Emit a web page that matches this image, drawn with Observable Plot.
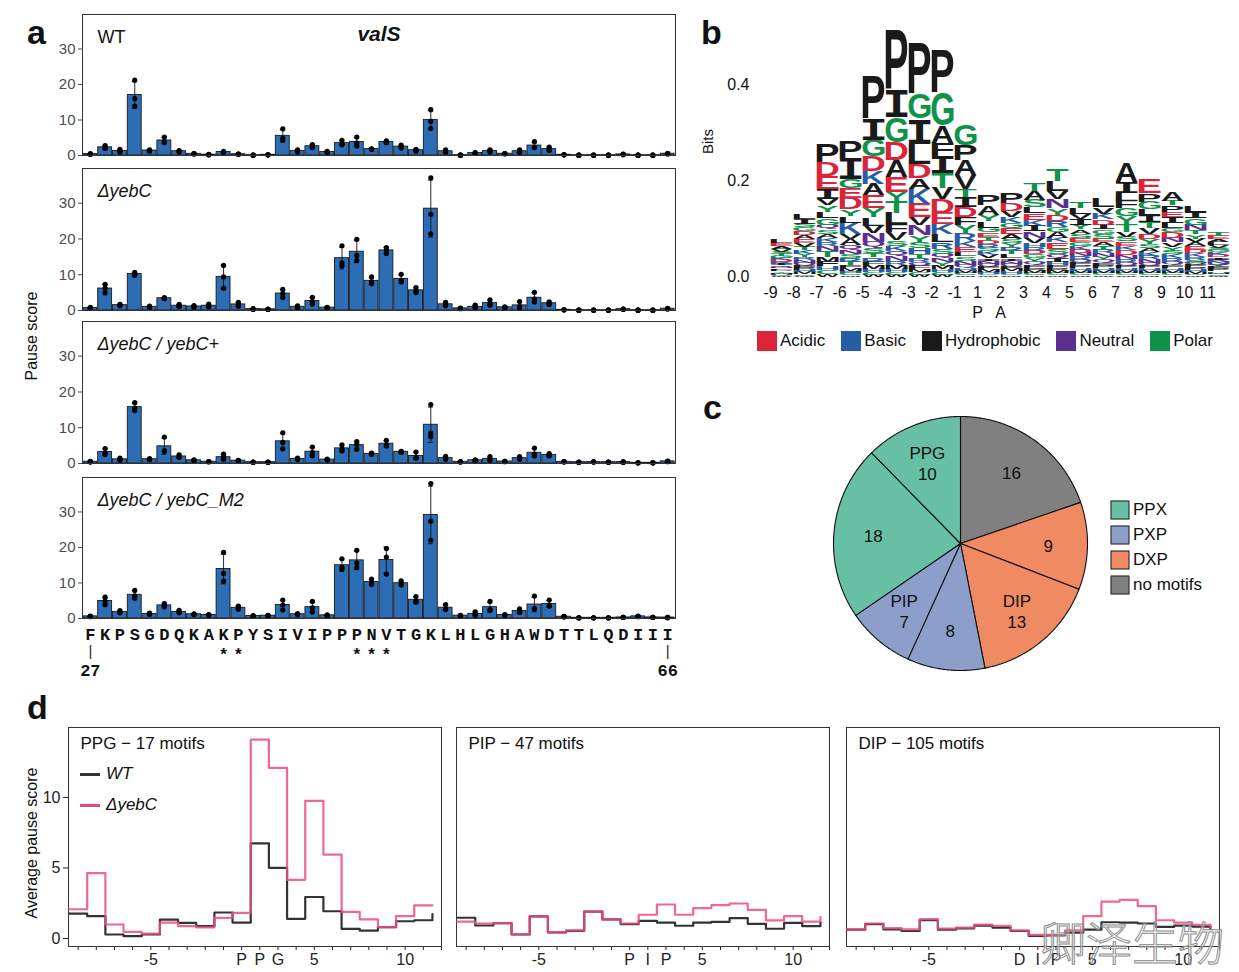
<!DOCTYPE html>
<html><head><meta charset="utf-8">
<script src="https://cdn.jsdelivr.net/npm/d3@7"></script>
<script src="https://cdn.jsdelivr.net/npm/@observablehq/plot@0.6"></script>
<style>
body{margin:0;background:#fff;}
#page{position:relative;width:1239px;height:972px;overflow:hidden;font-family:"Liberation Sans",Arial,sans-serif;color:#111;background:#fff;}
.plab{position:absolute;font-weight:bold;font-size:34px;line-height:34px;}
svg{display:block;}
#legb [class$="-swatch"]{margin-right:16px !important;}
#legb svg{margin-right:3px !important;}
#legc [class$="-swatch"]{padding-bottom:5px !important;}
#legc svg{margin-right:4px !important;}
#legc svg rect{stroke:#333;stroke-width:1.2px;}
</style></head><body><div id="page"></div>
<script>
// ---------------- DATA ----------------
// Panel a: residues 27..66 of valS, three replicate pause scores per residue
const positions = d3.range(27, 67);
const sequence = "FKPSGDQKAKPYSIVIPPPNVTGKLHLGHAWDTTLQDIII".split("");
const starPositions = [36, 37, 45, 46, 47];
const endPositions = [27, 66];
const wtReps = [
[0.4,0.5,0.3],[2.0,2.8,2.1],[1.0,1.7,1.2],[21.2,16.0,13.9],[1.3,1.6,1.3],[3.6,5.2,3.9],[1.0,1.4,1.2],[0.5,0.5,0.4],[0.2,0.3,0.2],[0.9,1.2,0.9],
[0.4,0.4,0.3],[0.1,0.1,0.1],[0.2,0.2,0.2],[7.5,4.8,4.3],[1.0,1.6,1.3],[2.2,3.1,2.5],[0.9,1.2,0.9],[4.3,3.0,3.2],[5.2,3.5,2.7],[1.7,1.9,1.8],
[4.1,3.6,3.7],[2.1,2.9,2.5],[1.2,1.7,1.6],[12.9,9.6,7.6],[1.0,1.6,1.0],[0.1,0.1,0.1],[0.8,0.6,0.7],[1.0,1.6,1.3],[0.5,0.5,0.5],[0.9,1.6,1.1],
[3.9,2.3,2.2],[1.5,2.4,1.5],[0.2,0.2,0.2],[0.1,0.1,0.1],[0.1,0.1,0.1],[0.1,0.1,0.1],[0.3,0.4,0.2],[0.1,0.1,0.1],[0.1,0.1,0.1],[0.6,0.4,0.5]];
const koReps = [
[0.9,0.7,0.6],[7.3,6.2,4.9],[1.7,1.5,1.3],[10.7,10.1,9.8],[1.2,1.0,0.9],[3.6,3.3,3.4],[1.7,1.2,1.1],[1.4,1.0,1.0],[1.8,1.2,1.0],[12.6,9.4,6.2],
[2.3,1.6,1.2],[0.5,0.4,0.3],[0.4,0.3,0.3],[5.9,4.7,3.6],[1.3,1.0,0.8],[3.7,2.5,1.8],[0.9,0.8,0.7],[18.1,13.3,12.5],[19.9,15.4,14.0],[9.4,8.0,7.5],
[17.6,16.9,15.9],[10.1,8.4,8.0],[6.4,5.5,5.0],[37.1,26.9,21.4],[2.3,1.6,1.3],[0.7,0.6,0.5],[1.5,0.9,0.7],[3.0,1.9,1.5],[1.0,0.9,0.8],[2.5,1.1,0.7],
[5.1,3.2,2.4],[2.4,2.0,1.7],[0.2,0.2,0.2],[0.1,0.1,0.1],[0.1,0.1,0.1],[0.1,0.1,0.1],[0.4,0.4,0.3],[0.1,0.1,0.1],[0.1,0.1,0.1],[0.6,0.4,0.5]];
const rescueReps = [
[0.6,0.5,0.4],[4.2,2.9,2.5],[1.5,1.1,0.9],[17.0,15.5,14.8],[1.4,1.1,1.1],[7.4,3.6,3.4],[2.4,1.8,1.7],[1.0,0.9,0.8],[0.5,0.5,0.5],[2.6,1.5,1.2],
[0.9,0.8,0.7],[0.4,0.4,0.3],[0.4,0.4,0.3],[8.6,5.9,4.1],[1.5,1.3,1.1],[4.6,3.1,2.2],[1.2,1.1,1.0],[5.2,4.0,3.5],[6.1,5.3,4.0],[2.9,2.6,2.6],
[6.5,5.2,4.9],[3.4,3.1,3.3],[3.2,1.6,1.5],[16.5,8.5,7.5],[2.0,1.3,1.2],[0.5,0.5,0.4],[1.0,0.9,0.8],[1.9,1.1,0.9],[0.6,0.6,0.5],[1.9,1.4,1.2],
[4.3,2.6,2.1],[2.8,2.3,2.1],[0.5,0.5,0.4],[0.4,0.4,0.3],[0.5,0.4,0.4],[0.4,0.4,0.3],[0.5,0.4,0.3],[0.2,0.2,0.2],[0.2,0.2,0.2],[0.7,0.6,0.5]];
const m2Reps = [
[0.7,0.6,0.5],[6.0,4.9,3.9],[2.2,1.8,1.6],[7.9,6.4,5.7],[1.5,1.2,1.2],[4.2,3.6,3.3],[2.3,1.7,1.6],[1.3,1.2,1.1],[1.1,1.0,0.9],[18.6,12.7,10.5],
[3.5,2.9,2.6],[0.8,0.7,0.6],[0.9,0.8,0.7],[5.2,3.8,2.4],[1.4,1.1,1.1],[4.8,3.0,1.8],[1.0,0.9,0.8],[16.8,14.4,13.8],[19.2,15.6,14.3],[11.1,10.2,9.6],
[19.7,17.3,12.5],[10.6,9.8,9.4],[6.2,5.0,4.6],[38.0,27.4,22.1],[3.9,2.7,2.5],[0.9,0.8,0.7],[1.9,1.1,0.9],[4.8,2.5,2.3],[1.1,1.0,0.9],[2.7,1.9,1.7],
[6.3,2.8,2.7],[5.2,3.6,3.5],[0.6,0.5,0.4],[0.2,0.2,0.2],[0.2,0.2,0.2],[0.2,0.2,0.2],[0.3,0.3,0.3],[0.7,0.6,0.5],[0.3,0.3,0.3],[0.3,0.3,0.2]];

// Panel b: sequence logo, letters listed top -> bottom with heights (bits)
const logoPositions = ["-9","-8","-7","-6","-5","-4","-3","-2","-1","1","2","3","4","5","6","7","8","9","10","11"];
const logoLetters = [
"LEAVSTGKDRIQNFPYMHCW","LISGDAEVTKYRNQFPHMCW","PDEIVYLGQSAKRNTMFHCW","PIGEDYLKVAQNSRTFMHCW","PIGDKAEYLVNQSTRFMHCW",
"PIGDAEYTLFVSKQNRMHCW","PGILDAKEVNYSHTRQFMCW","PGAFITVDEKLRSQNYMHCW","GPAVTIDFYRKELSNQHMCW","PAYLGETDRSKVINQFMHCW",
"PDVKGEASYRTLINQFMHCW","TASLEKINVHRDGYQFPMCW","TLVNYDRGAKESQIHFPMCW","TLVIYASEGKDNRQFPHMCW","LVKDIGSEATRNYQFPHMCW",
"AILFGYTVSEKDNRQPHMCW","EPGLITVDYSAKRNQFHMCW","ATPEILGDNVYSKRQFHMCW","LIGNTYVAEDKRSQFPHMCW","TEALVSGKDIRNQYFPHMCW"];
const logoHeights = [
[.007,.006,.006,.005,.005,.004,.004,.004,.004,.004,.004,.003,.003,.003,.003,.003,.002,.002,.002,.002],
[.011,.010,.008,.008,.008,.008,.008,.008,.007,.008,.007,.006,.006,.005,.005,.005,.004,.004,.003,.002],
[.038,.028,.026,.021,.014,.014,.012,.014,.010,.009,.008,.009,.009,.010,.012,.010,.010,.008,.007,.006],
[.035,.043,.019,.022,.023,.014,.014,.023,.010,.014,.010,.009,.008,.008,.007,.006,.005,.005,.004,.003],
[.090,.043,.035,.031,.026,.024,.027,.019,.017,.016,.018,.012,.011,.009,.009,.008,.007,.007,.005,.004],
[.125,.056,.052,.038,.035,.031,.019,.024,.024,.016,.017,.012,.011,.010,.010,.009,.008,.007,.005,.004],
[.105,.052,.052,.042,.030,.022,.031,.028,.017,.021,.014,.013,.012,.009,.008,.008,.007,.006,.005,.004],
[.090,.069,.035,.028,.035,.031,.024,.028,.024,.021,.017,.014,.010,.009,.008,.008,.007,.006,.005,.004],
[.045,.031,.031,.028,.017,.021,.021,.017,.017,.017,.012,.010,.009,.009,.008,.007,.006,.005,.004,.003],
[.022,.019,.014,.013,.010,.009,.008,.008,.008,.007,.007,.007,.006,.006,.006,.005,.005,.004,.003,.003],
[.022,.015,.014,.012,.011,.012,.010,.009,.008,.008,.007,.007,.006,.006,.006,.005,.005,.005,.003,.003],
[.015,.019,.016,.012,.014,.012,.012,.014,.010,.008,.008,.008,.008,.007,.007,.006,.006,.005,.004,.003],
[.024,.022,.016,.019,.014,.014,.012,.010,.012,.010,.014,.010,.008,.008,.007,.006,.006,.005,.004,.003],
[.012,.012,.010,.012,.010,.009,.009,.008,.008,.008,.007,.007,.007,.006,.006,.006,.005,.005,.004,.003],
[.019,.014,.012,.011,.010,.009,.010,.008,.008,.008,.007,.007,.007,.006,.006,.005,.005,.005,.004,.003],
[.040,.022,.017,.016,.017,.015,.017,.010,.010,.009,.009,.011,.008,.007,.006,.006,.005,.005,.004,.003],
[.028,.017,.015,.013,.014,.012,.014,.010,.010,.009,.008,.008,.007,.007,.006,.006,.005,.005,.004,.003],
[.019,.010,.014,.010,.012,.010,.009,.012,.010,.009,.008,.008,.008,.007,.007,.006,.006,.005,.004,.003],
[.014,.013,.013,.012,.008,.009,.008,.008,.008,.007,.007,.006,.006,.005,.005,.005,.004,.004,.003,.003],
[.008,.007,.006,.006,.006,.005,.005,.005,.005,.005,.004,.004,.004,.004,.004,.004,.003,.003,.003,.002]];
const classNames = ["Acidic","Basic","Hydrophobic","Neutral","Polar"];
const classColors = ["#d9243a","#275da5","#1a1a1a","#5b2f8e","#11924a"];
const classOf = {D:"Acidic",E:"Acidic",K:"Basic",R:"Basic",H:"Basic",A:"Hydrophobic",V:"Hydrophobic",L:"Hydrophobic",I:"Hydrophobic",
  P:"Hydrophobic",F:"Hydrophobic",M:"Hydrophobic",W:"Hydrophobic",Q:"Neutral",N:"Neutral",G:"Polar",S:"Polar",T:"Polar",Y:"Polar",C:"Polar"};

// Panel c: pie (clockwise from 12 o'clock)
const sliceCounts = [16, 9, 13, 8, 7, 18, 10];
const sliceGroups = ["no motifs","DXP","DXP","PXP","PXP","PPX","PPX"];
const sliceLabels = ["16","9","DIP\n13","8","PIP\n7","18","PPG\n10"];
const groupNames = ["PPX","PXP","DXP","no motifs"];
const groupColors = ["#67c0a3","#8c9fca","#f08a63","#808080"];

// Panel d: average pause score profiles (20 positions + closing value)
const ppgWT = [1.76,1.58,0.28,0.16,0.28,1.34,1.10,0.87,1.84,1.13,6.75,5.01,1.39,2.94,1.93,0.68,0.56,0.80,1.22,1.29,1.72];
const ppgKO = [2.07,4.64,0.99,0.47,0.35,1.13,0.87,0.78,1.46,1.81,14.10,12.10,4.16,9.76,5.95,1.88,1.36,0.80,1.58,2.35,2.35];
const pipWT = [1.47,0.92,1.09,0.28,1.56,0.43,0.54,1.91,1.35,1.02,1.25,1.13,0.90,1.13,1.18,1.44,1.04,0.69,1.11,0.87,1.16];
const pipKO = [1.20,1.06,1.09,0.31,1.56,0.45,0.57,1.91,1.35,1.06,1.68,2.41,1.68,2.15,2.36,2.48,2.03,1.28,1.58,1.20,1.51];
const dipWT = [0.62,1.01,0.65,0.53,1.29,0.62,0.72,0.91,0.77,0.53,0.19,0.22,0.41,0.62,1.15,1.13,1.06,0.82,0.91,0.84,0.67];
const dipKO = [0.65,1.06,0.74,0.65,1.37,0.70,0.77,0.98,0.89,0.58,0.26,0.26,0.58,1.58,2.61,2.73,2.30,1.29,1.13,0.96,0.77];
const ppgTicks = ["","","","","-5","","","","","P","P","G","","5","","","","","10","",""];
const pipTicks = ["","","","","-5","","","","","P","I","P","","5","","","","","10","",""];
const dipTicks = ["","","","","-5","","","","","D","I","P","","5","","","","","10","",""];

// ---------------- LAYOUT HELPERS ----------------
const FONT = "Liberation Sans, Arial, sans-serif";
const page = document.getElementById("page");
function put(el, left, top) { el.style.position = "absolute"; el.style.left = left + "px"; el.style.top = top + "px"; page.appendChild(el); return el; }
function label(text, left, top, css) { const d = document.createElement("div"); d.textContent = text; Object.assign(d.style, css || {}); return put(d, left, top); }
function vlabel(text, cx, cy, size) {
  const w = 300, d = document.createElement("div"); d.textContent = text;
  Object.assign(d.style, {width: w + "px", textAlign: "center", fontSize: size + "px", lineHeight: size + "px", transform: "rotate(-90deg)", whiteSpace: "nowrap"});
  return put(d, cx - w / 2, cy - size / 2);
}

// ---------------- PANEL a ----------------
function barPanel(reps, name, opt) {
  const rows = [];
  reps.forEach((trip, i) => trip.forEach((v, r) => rows.push({pos: positions[i], rep: r, value: v})));
  const lo = v => d3.mean(v) - d3.deviation(v), hi = v => d3.mean(v) + d3.deviation(v);
  const mt = 1, mb = opt.last ? 62 : 4;
  const marks = [
    Plot.barY(rows, Plot.groupX({y: "mean"}, {x: "pos", y: "value", fill: "#2d6db5", stroke: "#1a1a1a", strokeWidth: 0.9})),
    Plot.ruleX(rows, Plot.groupX({y1: lo, y2: hi}, {x: "pos", y1: "value", y2: "value", stroke: "#111", strokeWidth: 0.9})),
    Plot.tickY(rows, Plot.groupX({y: lo}, {x: "pos", y: "value", stroke: "#111", strokeWidth: 0.9, insetLeft: 4.5, insetRight: 4.5})),
    Plot.tickY(rows, Plot.groupX({y: hi}, {x: "pos", y: "value", stroke: "#111", strokeWidth: 0.9, insetLeft: 4.5, insetRight: 4.5})),
    Plot.dot(rows, {x: "pos", y: "value", r: 2.6, fill: "#000"}),
    Plot.frame({stroke: "#333", strokeWidth: 1}),
    Plot.text([name], {frameAnchor: "top-left", dx: 15, dy: 23, lineAnchor: "middle", fontSize: 18, fontStyle: opt.italic ? "italic" : "normal", fill: "#111"})
  ];
  if (opt.title) marks.push(Plot.text([opt.title], {frameAnchor: "top", dy: 20, lineAnchor: "middle", fontSize: 21, fontWeight: "bold", fontStyle: "italic", fill: "#111"}));
  if (opt.last) {
    const mono = {frameAnchor: "bottom", lineAnchor: "middle", fontFamily: "Liberation Mono, DejaVu Sans Mono, monospace", fontWeight: "bold", fill: "#111"};
    marks.push(
      Plot.text(positions, {...mono, x: d => d, text: (d, i) => sequence[i], dy: 16, fontSize: 17}),
      Plot.text(starPositions, {...mono, x: d => d, text: () => "*", dy: 36, fontSize: 17}),
      Plot.text(endPositions, {...mono, x: d => d, text: () => "|", dy: 33, fontSize: 14, fontWeight: "normal"}),
      Plot.text(endPositions, {...mono, x: d => d, text: d => String(d), dy: 52, fontSize: 17})
    );
  }
  const fh = opt.frame[1] - opt.frame[0];
  const svg = Plot.plot({
    width: 680, height: fh + mt + mb, marginLeft: 82, marginRight: 5, marginTop: mt, marginBottom: mb,
    x: {type: "band", domain: positions, padding: 0.06, axis: null},
    y: {domain: [0, 39.7], ticks: [0, 10, 20, 30], tickSize: 4, tickPadding: 3, label: null},
    style: {fontFamily: FONT, fontSize: "15px", color: "#4d4d4d", background: "transparent", overflow: "visible"},
    marks
  });
  put(svg, 0, opt.frame[0] - mt);
}
barPanel(wtReps, "WT", {frame: [14, 155], italic: false, title: "valS"});
barPanel(koReps, "ΔyebC", {frame: [168, 310], italic: true});
barPanel(rescueReps, "ΔyebC / yebC+", {frame: [321, 463], italic: true});
barPanel(m2Reps, "ΔyebC / yebC_M2", {frame: [477, 618], italic: true, last: true});
vlabel("Pause score", 32, 336, 16);

// ---------------- PANEL b ----------------
const logoRows = [];
logoPositions.forEach((p, c) => {
  const L = logoLetters[c], H = logoHeights[c];
  let base = 0;
  for (let j = L.length - 1; j >= 0; --j) {
    logoRows.push({pos: p, letter: L[j], cls: classOf[L[j]], y1: base, y2: base + H[j]});
    base += H[j];
  }
});
const logo = Plot.plot({
  width: 545, height: 310, marginLeft: 64, marginRight: 12, marginTop: 2, marginBottom: 44,
  x: {type: "band", domain: logoPositions, paddingInner: 0.06, paddingOuter: 0.03, tickSize: 0, tickPadding: 10, label: null},
  y: {domain: [0, 0.55], ticks: [0, 0.2, 0.4], tickFormat: d3.format(".1f"), tickSize: 0, tickPadding: 5, label: null},
  color: {domain: classNames, range: classColors},
  style: {fontFamily: FONT, fontSize: "16px", color: "#111", background: "transparent", overflow: "visible"},
  marks: [
    Plot.barY(logoRows, {x: "pos", y1: "y1", y2: "y2", fill: "none", stroke: "none"}),
    Plot.text(logoRows, {x: "pos", y: "y1", text: "letter", fill: "cls", fontSize: 100, fontWeight: "bold", textAnchor: "start"}),
    Plot.text(["1", "2"], {x: d => d, text: (d, i) => ["P", "A"][i], frameAnchor: "bottom", dy: 36, lineAnchor: "middle", fontSize: 16, fill: "#111"})
  ]
});
put(logo, 690, 10);
// stretch each glyph into the box that Plot computed for it
(function () {
  const rects = logo.querySelectorAll('g[aria-label="bar"] rect');
  const tg = logo.querySelector('g[aria-label="text"]');
  const texts = tg.querySelectorAll("text");
  const ctx = document.createElement("canvas").getContext("2d");
  texts.forEach((t, i) => {
    const r = rects[i]; if (!r) return;
    const rx = +r.getAttribute("x"), ry = +r.getAttribute("y"), rw = +r.getAttribute("width"), rh = +r.getAttribute("height");
    const ch = t.textContent;
    const fam = ch === "I" ? '"Liberation Mono"' : '"Liberation Sans"';
    ctx.font = `bold 100px ${fam}`;
    const m = ctx.measureText(ch);
    const L = m.actualBoundingBoxLeft, R = m.actualBoundingBoxRight, A = m.actualBoundingBoxAscent, D = m.actualBoundingBoxDescent;
    ["x", "y", "dx", "dy"].forEach(a => t.removeAttribute(a));
    t.setAttribute("y", 0); t.setAttribute("x", 0);
    t.style.fontFamily = fam; t.style.fontWeight = "bold"; t.style.fontSize = "100px";
    t.setAttribute("text-anchor", "start");
    t.setAttribute("transform", `translate(${rx},${ry}) scale(${rw / (L + R)},${rh / (A + D)}) translate(${L},${A})`);
  });
})();
vlabel("Bits", 707, 141, 15);
const legB = Plot.legend({color: {domain: classNames, range: classColors}, legend: "swatches", swatchSize: 20,
  style: {fontSize: "17px", fontFamily: FONT, color: "#111"}});
const legBWrap = document.createElement("div"); legBWrap.id = "legb"; legBWrap.appendChild(legB);
put(legBWrap, 757, 324);

// ---------------- PANEL c ----------------
const pieTotal = d3.sum(sliceCounts);
const pieRows = [], pieLabelRows = [];
let acc = 0;
sliceCounts.forEach((n, i) => {
  const a0 = 2 * Math.PI * acc / pieTotal, a1 = 2 * Math.PI * (acc + n) / pieTotal;
  acc += n;
  const g = sliceGroups[i];
  pieRows.push({s: i, g, x: 0, y: 0});
  const steps = Math.ceil((a1 - a0) / 0.01);
  for (let k = 0; k <= steps; k++) { const a = a0 + (a1 - a0) * k / steps; pieRows.push({s: i, g, x: Math.sin(a), y: Math.cos(a)}); }
  pieRows.push({s: i, g, x: 0, y: 0});
  const mid = (a0 + a1) / 2;
  pieLabelRows.push({x: 0.69 * Math.sin(mid), y: 0.69 * Math.cos(mid), t: sliceLabels[i]});
});
const pie = Plot.plot({
  width: 268, height: 268, margin: 7,
  x: {domain: [-1, 1], axis: null}, y: {domain: [-1, 1], axis: null},
  color: {domain: groupNames, range: groupColors},
  style: {fontFamily: FONT, background: "transparent", overflow: "visible"},
  marks: [
    Plot.line(pieRows, {x: "x", y: "y", z: "s", fill: "g", stroke: "#111", strokeWidth: 1.1, strokeLinejoin: "round"}),
    Plot.text(pieLabelRows, {x: "x", y: "y", text: "t", fontSize: 17, lineHeight: 1.25, fill: "#111"})
  ]
});
put(pie, 826, 409);
const legC = Plot.legend({color: {domain: groupNames, range: groupColors}, legend: "swatches", columns: 1, swatchSize: 18,
  style: {fontSize: "17px", fontFamily: FONT, color: "#111"}});
const legCWrap = document.createElement("div"); legCWrap.id = "legc"; legCWrap.appendChild(legC);
put(legCWrap, 1111, 500);

// ---------------- PANEL d ----------------
function stepPanel(title, wt, ko, ticks, left, showY) {
  const rows = [];
  wt.forEach((v, k) => rows.push({k: k - 0.5, v, s: "WT"}));
  ko.forEach((v, k) => rows.push({k: k - 0.5, v, s: "KO"}));
  const svg = Plot.plot({
    width: showY ? 445 : 381, height: 247, marginLeft: showY ? 68 : 4, marginRight: 4, marginTop: 2, marginBottom: 26,
    x: {domain: [-0.53, 20], ticks: d3.range(21), tickFormat: k => ticks[k], tickSize: 4, tickPadding: 3, label: null},
    y: showY ? {domain: [-0.57, 14.96], ticks: [0, 5, 10], tickSize: 5, tickPadding: 3, label: null} : {domain: [-0.57, 14.96], axis: null},
    style: {fontFamily: FONT, fontSize: "16px", color: "#222", background: "transparent", overflow: "visible"},
    marks: [
      Plot.frame({stroke: "#333", strokeWidth: 1}),
      Plot.line(rows.filter(d => d.s === "WT"), {x: "k", y: "v", curve: "step-after", stroke: "#333", strokeWidth: 2.2}),
      Plot.line(rows.filter(d => d.s === "KO"), {x: "k", y: "v", curve: "step-after", stroke: "#ec4c86", strokeOpacity: 0.85, strokeWidth: 2.2}),
      Plot.text([title], {frameAnchor: "top-left", dx: 12, dy: 16, lineAnchor: "middle", fontSize: 17, fill: "#111"})
    ]
  });
  put(svg, left, 725);
}
stepPanel("PPG − 17 motifs", ppgWT, ppgKO, ppgTicks, 0, true);
stepPanel("PIP − 47 motifs", pipWT, pipKO, pipTicks, 452, false);
stepPanel("DIP − 105 motifs", dipWT, dipKO, dipTicks, 842, false);
vlabel("Average pause score", 32, 843, 16);
// legend inside first d panel
[["#333", "WT", 774], ["#e8467c", "ΔyebC", 805]].forEach(([c, t, y]) => {
  const bar = document.createElement("div"); Object.assign(bar.style, {width: "20px", height: "3px", background: c}); put(bar, 80, y - 1.5);
  label(t, 106, y - 10, {fontSize: "17px", lineHeight: "20px", fontStyle: "italic"});
});

// ---------------- panel letters & watermark ----------------
label("a", 27, 15, {}).className = "plab";
label("b", 701, 15, {}).className = "plab";
label("c", 703, 390, {}).className = "plab";
label("d", 27, 690, {}).className = "plab";
label("卿泽生物", 1040, 912, {fontFamily: '"Noto Sans CJK SC", sans-serif', fontWeight: "300", fontSize: "46px", lineHeight: "56px",
  color: "rgba(255,255,255,0.4)", webkitTextStroke: "1px #8a8a8a", whiteSpace: "nowrap"});
</script></body></html>
